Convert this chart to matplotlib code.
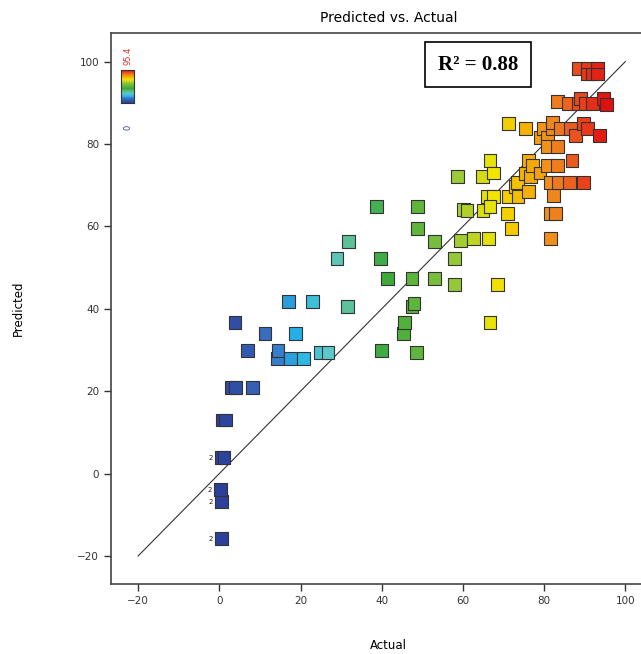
import numpy as np
import matplotlib
matplotlib.use("Agg")
import matplotlib.pyplot as plt
from matplotlib.colors import LinearSegmentedColormap, Normalize

# actual / predicted pairs
actual = [
    0.5, 0.5, 0.3, 0.5, 1.2, 0.8, 1.5, 3.0, 4.0, 8.2, 3.9, 6.9, 11.3, 14.3, 14.5,
    17.5, 20.7, 18.7, 17.0, 22.9, 24.9, 26.8,
    29.0, 31.5, 31.8, 38.7, 39.7, 39.9, 41.4, 45.3, 45.6, 47.5, 47.9, 47.5, 48.5,
    48.8, 48.8, 53.0, 53.0, 57.9, 57.9, 58.6, 59.4, 60.1, 61.0, 62.6, 64.8, 64.9,
    66.3, 66.7, 66.0, 67.5, 66.7, 66.7, 67.5, 68.5,
    70.9, 71.2, 71.2, 71.9, 72.9, 73.4, 73.6, 75.4, 75.4, 76.1, 76.1, 76.6, 77.1,
    79.0, 79.0, 79.8, 80.8, 80.8, 80.8, 81.5, 81.5, 81.5, 82.0, 82.0, 82.3, 82.8,
    83.3, 83.3, 83.3, 83.5, 84.0, 86.0, 86.2, 86.5, 86.9, 87.7, 88.4, 88.4, 88.9,
    89.7, 89.7, 90.1, 90.6, 90.6, 90.6, 91.9, 91.9, 93.1, 93.1, 93.6, 94.6, 95.4,
]
predicted = [
    -15.8, -6.8, -3.9, 3.9, 3.9, 13.0, 13.0, 20.9, 20.9, 20.9, 36.7, 29.9, 34.0, 27.9, 29.9,
    27.9, 27.9, 34.0, 41.7, 41.7, 29.4, 29.4,
    52.2, 40.5, 56.3, 64.8, 52.2, 29.9, 47.3, 34.0, 36.7, 40.5, 41.3, 47.3, 29.4,
    64.8, 59.5, 56.3, 47.3, 52.2, 45.9, 72.1, 56.6, 64.1, 63.8, 57.0, 72.1, 63.8,
    57.0, 36.7, 67.2, 67.2, 64.8, 76.0, 73.0, 45.9,
    63.1, 67.2, 85.0, 59.5, 69.7, 70.6, 67.2, 72.8, 83.7, 68.4, 76.0, 72.1, 74.8,
    73.0, 81.5, 83.7, 81.5, 79.4, 74.8, 70.6, 63.1, 57.0, 83.7, 85.2, 67.5, 63.1,
    79.4, 74.8, 90.3, 70.6, 83.7, 89.8, 70.6, 83.7, 76.0, 82.0, 89.8, 98.3, 91.0,
    85.0, 70.6, 89.8, 83.7, 98.3, 97.0, 89.8, 97.0, 98.3, 97.0, 82.0, 91.0, 89.6,
]
# points that carry a "2" (two runs at the same spot)
dup_actual = [0.5, 0.5, 0.3, 0.5]
dup_predicted = [-15.8, -6.8, -3.9, 3.9]

color_min, color_max = 0.0, 95.4
r_squared = 0.88

cmap = LinearSegmentedColormap.from_list("de", [
    (0.00, "#2c3f9a"),
    (0.14, "#3a74c6"),
    (0.20, "#22b5ea"),
    (0.28, "#5cc8c8"),
    (0.35, "#5cbf8a"),
    (0.43, "#3aa83a"),
    (0.60, "#8cc63f"),
    (0.71, "#f2e600"),
    (0.79, "#f5b400"),
    (0.86, "#f08a1e"),
    (0.93, "#ec4a1e"),
    (1.00, "#e01010"),
])
norm = Normalize(color_min, color_max)

fig = plt.figure(figsize=(6.41, 6.54), dpi=100)
ax = fig.add_axes([0.173, 0.107, 0.866, 0.843])

ax.plot([-20, 100], [-20, 100], color="#333333", lw=0.8, zorder=1)
ax.scatter(actual, predicted, c=actual, cmap=cmap, norm=norm, marker="s", s=82,
           edgecolors="#333333", linewidths=0.8, zorder=2)
for xa, yp in zip(dup_actual, dup_predicted):
    ax.text(xa - 2.2, yp, "2", fontsize=5, ha="right", va="center", color="#222222")

ax.set_xlim(-26.7, 110)
ax.set_ylim(-26.8, 107)
ax.set_xticks([-20, 0, 20, 40, 60, 80, 100])
ax.set_yticks([-20, 0, 20, 40, 60, 80, 100])
ax.tick_params(direction="out", length=5, width=1, labelsize=7.5, colors="#333333",
               labelcolor="#333333")
for side in ["left", "bottom", "top", "right"]:
    ax.spines[side].set_color("#444444")
    ax.spines[side].set_linewidth(1.2)

ax.set_title("Predicted vs. Actual", fontsize=10, pad=8)
ax.set_xlabel("Actual", fontsize=8.5, labelpad=24)
ax.set_ylabel("Predicted", fontsize=8.5, labelpad=38)

ax.text(0.661, 0.942, "R\u00b2 = %.2f" % r_squared, transform=ax.transAxes,
        fontsize=15, fontweight="bold", family="Liberation Serif", ha="center", va="center",
        bbox=dict(boxstyle="square,pad=0.6", fc="white", ec="black", lw=1.2))

# colour key
cax = fig.add_axes([0.189, 0.8425, 0.02, 0.05])
grad = np.linspace(color_max, color_min, 100).reshape(-1, 1)
cax.imshow(grad, aspect="auto", cmap=cmap, norm=norm)
cax.set_xticks([])
cax.set_yticks([])
for s in cax.spines.values():
    s.set_color("#333333")
    s.set_linewidth(0.8)
fig.text(0.199, 0.915, "95.4", rotation=90, fontsize=6, color="#e03030", ha="center", va="center")
fig.text(0.199, 0.805, "0", rotation=90, fontsize=6, color="#3040a0", ha="center", va="center")

fig.savefig("out.png", dpi=100)
